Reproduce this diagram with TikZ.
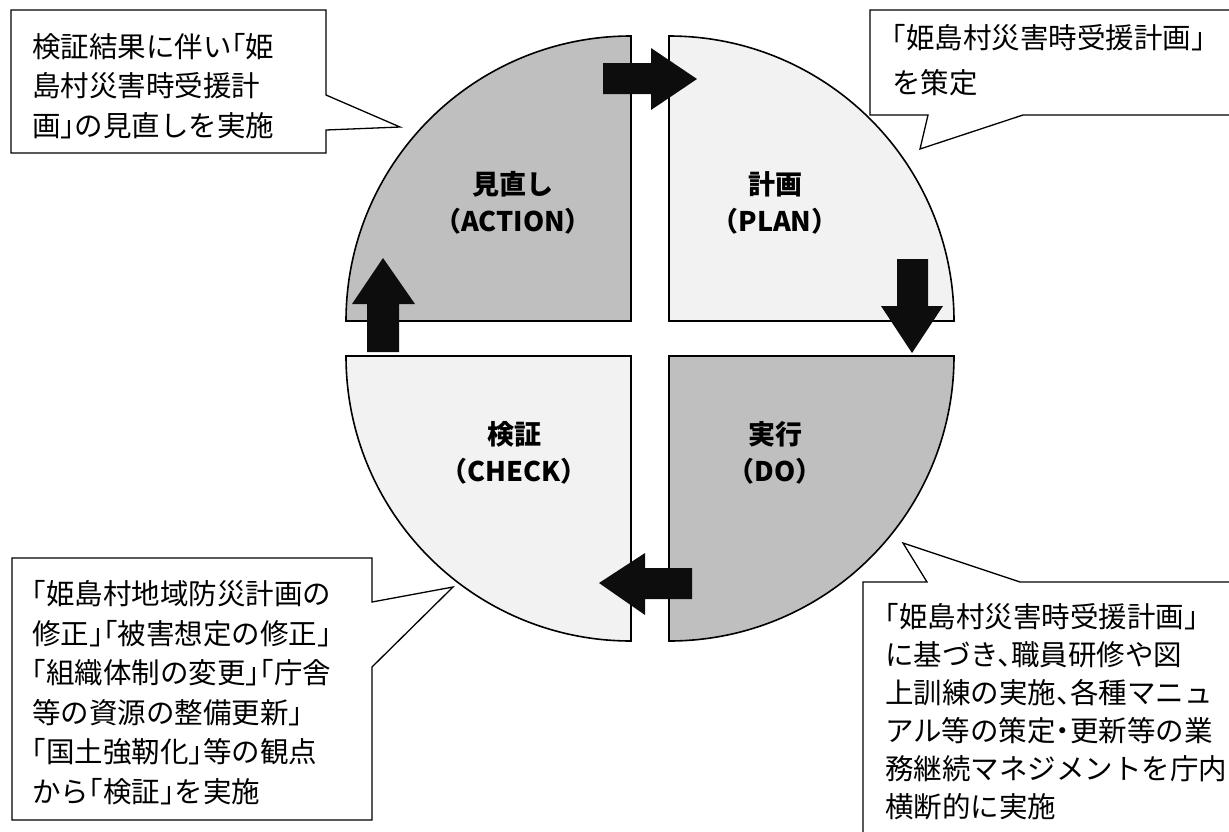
\documentclass[tikz,border=0pt]{standalone}
\usepackage{fontspec}
\usepackage{xcolor}
\newfontfamily\jpfont{Noto Sans CJK JP}[RawFeature=+halt]
\newfontfamily\jplabel{Noto Sans CJK JP}
\definecolor{darkq}{RGB}{191,191,191}
\definecolor{lightq}{RGB}{242,242,242}

\begin{document}
\begin{tikzpicture}[x=1pt,y=1pt,
    quad/.style={draw=black,line width=1.6pt},
    callout/.style={draw=black,fill=white,line width=1.3pt},
    note/.style={anchor=west,align=left,inner sep=0pt,font=\jpfont\fontsize{28.5}{39.5}\selectfont},
    phase/.style={align=center,inner sep=0pt,font=\jplabel\bfseries\fontsize{27}{37}\selectfont},
    blockarrow/.style={fill=black!95,draw=none}]
        % Page size
        \useasboundingbox (0,0) rectangle (1229,-831);
        \clip (0,0) rectangle (1229,-831);

        % Quadrants of the cycle
        \draw[quad,fill=darkq] (631,-321) -- (346,-321) arc[start angle=180,end angle=90,radius=285] -- cycle; % ACTION
        \draw[quad,fill=lightq] (669,-321) -- (669,-36) arc[start angle=90,end angle=0,radius=285] -- cycle; % PLAN
        \draw[quad,fill=lightq] (631,-356) -- (346,-356) arc[start angle=180,end angle=270,radius=285] -- cycle; % CHECK
        \draw[quad,fill=darkq] (669,-356) -- (669,-641) arc[start angle=270,end angle=360,radius=285] -- cycle; % DO

        % Quadrant labels
        \node[phase] (action) at (513,-203) {見直し\\（ACTION）};
        \node[phase] (plan) at (775,-203) {計画\\（PLAN）};
        \node[phase] (check) at (514,-453) {検証\\（CHECK）};
        \node[phase] (do) at (775,-453) {実行\\（DO）};

        % Block arrows between quadrants
        \fill[blockarrow] (603,-63) -- (651,-63) -- (651,-48) -- (697,-79) -- (651,-110) -- (651,-94) -- (603,-94) -- cycle; % to PLAN
        \fill[blockarrow] (897,-259) -- (928,-259) -- (928,-306) -- (943,-306) -- (912,-353) -- (881,-306) -- (897,-306) -- cycle; % to DO
        \fill[blockarrow] (692,-568) -- (645,-568) -- (645,-553) -- (599,-583) -- (645,-615) -- (645,-599) -- (692,-599) -- cycle; % to CHECK
        \fill[blockarrow] (367,-352) -- (367,-304) -- (352,-304) -- (383,-258) -- (415,-304) -- (399,-304) -- (399,-352) -- cycle; % to ACTION

        % Callout boxes
        \draw[callout] (11,-10) -- (326,-10) -- (326,-95) -- (400,-127) -- (326,-130) -- (326,-153) -- (11,-153) -- cycle;
        \draw[callout] (870,-115) -- (870,-10) -- (1240,-10) -- (1240,-115) -- (1023,-115) -- (920,-149) -- (928,-115) -- cycle;
        \draw[callout] (12,-558) -- (372,-558) -- (372,-602) -- (453,-587) -- (372,-667) -- (372,-820) -- (12,-820) -- cycle;
        \draw[callout] (863,-840) -- (863,-582) -- (927,-582) -- (903,-543) -- (1020,-582) -- (1240,-582) -- (1240,-840) -- cycle;

        % Callout texts
        \node[note] (noteaction) at (32,-86) {検証結果に伴い「姫\\島村災害時受援計\\画」の見直しを実施};
        \node[note,font=\jpfont\fontsize{28.5}{45}\selectfont] (noteplan) at (892,-60.5) {「姫島村災害時受援計画」\\を策定};
        \node[note] (notecheck) at (32,-692.5) {「姫島村地域防災計画の\\修正」「被害想定の修正」\\「組織体制の変更」「庁舎\\等の資源の整備更新」\\「国土強靭化」等の観点\\から「検証」を実施};
        \node[note,font=\jpfont\fontsize{28.5}{38}\selectfont] (notedo) at (885,-712) {「姫島村災害時受援計画」\\に基づき、職員研修や図\\上訓練の実施、各種マニュ\\アル等の策定・更新等の業\\務継続マネジメントを庁内\\横断的に実施};
\end{tikzpicture}
\end{document}
